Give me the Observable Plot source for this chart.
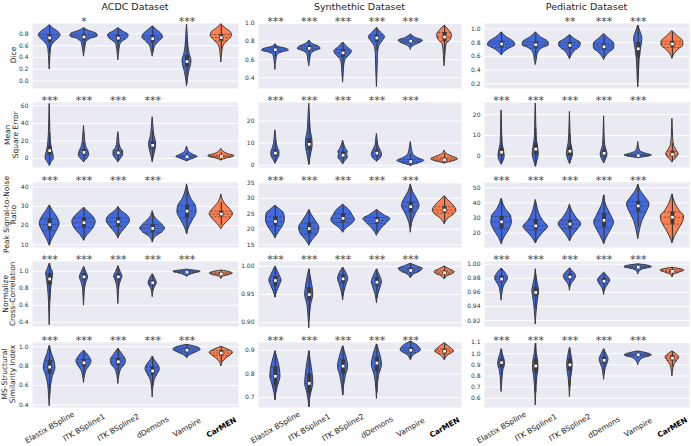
<!DOCTYPE html>
<html><head><meta charset="utf-8">
<script src="https://cdn.jsdelivr.net/npm/d3@7"></script>
<script src="https://cdn.jsdelivr.net/npm/@observablehq/plot@0.6"></script>
<style>
body{margin:0;background:#fff}
#fig{position:relative;width:691px;height:446px;font-family:"DejaVu Sans",sans-serif;overflow:hidden}
#fig svg{position:absolute}
</style>
</head><body><div id="fig"></div>
<script>
// ---------- data ----------
const methods = ["Elastix BSpline","ITK BSpline1","ITK BSpline2","dDemons","Vampire","CarMEN"];
const datasets = ["ACDC Dataset","Synthethic Dataset","Pediatric Dataset"];
const metricLabels = [["Dice"],["Mean","Square Error"],["Peak Signal-to-Noise","Ratio"],["Normalize","Cross-Correlation"],["MS-Structural","Similarity Index"]];

// significance stars per panel [row][col][method]
const starsDice = [["","*","","","***",""],["***","***","***","***","***",""],["","","**","***","***",""]];
const starsMSE  = [["***","***","***","***","",""],["***","***","***","***","***",""],["***","***","***","***","***",""]];
const starsPSNR = [["***","***","***","***","",""],["***","***","***","***","***",""],["***","***","***","***","***",""]];
const starsNCC  = [["***","***","***","***","***",""],["***","***","***","***","***",""],["***","***","***","***","***",""]];
const starsSSIM = [["***","***","***","***","***",""],["***","***","***","***","***",""],["***","***","***","***","***",""]];

// y domains and tick labels per panel
const domDice = [[-0.13,0.98],[0.28,1.0],[0.13,1.08]];
const domMSE  = [[-10.2,63.7],[-1,28.4],[-5.3,25.8]];
const domPSNR = [[8.6,42.4],[14.1,35.1],[10.5,53.5]];
const domNCC  = [[0.35,1.116],[0.893,1.009],[0.9116,1.004]];
const domSSIM = [[0.373,1.044],[0.658,0.933],[0.518,1.1]];
const tickDice = [["0.0","0.2","0.4","0.6","0.8"],["0.4","0.6","0.8","1.0"],["0.2","0.4","0.6","0.8","1.0"]];
const tickMSE  = [["0","20","40","60"],["0","10","20"],["0","10","20"]];
const tickPSNR = [["10","20","30","40"],["15","20","25","30","35"],["20","30","40","50"]];
const tickNCC  = [["0.4","0.6","0.8","1.0"],["0.90","0.95","1.00"],["0.92","0.94","0.96","0.98","1.00"]];
const tickSSIM = [["0.4","0.6","0.8","1.0"],["0.7","0.8","0.9"],["0.6","0.7","0.8","0.9","1.0","1.1"]];

// violins: q = [q1, median, q3], k = density profile [value, half-width] bottom -> top
const diceACDC = [
 {q:[0.66,0.735,0.79],k:[[0.2,0],[0.35,0.015],[0.5,0.03],[0.58,0.05],[0.65,0.12],[0.72,0.25],[0.78,0.32],[0.85,0.22],[0.9,0.1],[0.95,0]]},
 {q:[0.7,0.75,0.79],k:[[0.42,0],[0.5,0.02],[0.58,0.04],[0.66,0.07],[0.72,0.2],[0.76,0.4],[0.8,0.38],[0.86,0.12],[0.9,0]]},
 {q:[0.67,0.73,0.78],k:[[0.36,0],[0.5,0.025],[0.6,0.05],[0.66,0.1],[0.72,0.25],[0.78,0.3],[0.85,0.12],[0.9,0]]},
 {q:[0.66,0.72,0.77],k:[[0.42,0],[0.5,0.03],[0.6,0.08],[0.68,0.2],[0.74,0.3],[0.8,0.26],[0.87,0.12],[0.93,0]]},
 {q:[0.24,0.33,0.43],k:[[-0.09,0],[0.05,0.03],[0.15,0.06],[0.25,0.11],[0.35,0.13],[0.45,0.08],[0.6,0.04],[0.8,0.02],[0.96,0]]},
 {q:[0.68,0.74,0.79],k:[[0.32,0],[0.45,0.02],[0.55,0.04],[0.63,0.1],[0.7,0.22],[0.77,0.31],[0.83,0.28],[0.9,0.12],[0.97,0]]}];
const diceSyn = [
 {q:[0.69,0.71,0.73],k:[[0.49,0],[0.6,0.03],[0.65,0.06],[0.68,0.2],[0.7,0.4],[0.72,0.32],[0.74,0.1],[0.77,0]]},
 {q:[0.7,0.725,0.75],k:[[0.53,0],[0.6,0.03],[0.65,0.05],[0.69,0.15],[0.72,0.34],[0.74,0.3],[0.77,0.12],[0.81,0]]},
 {q:[0.63,0.675,0.71],k:[[0.35,0],[0.45,0.02],[0.52,0.03],[0.6,0.07],[0.65,0.2],[0.69,0.26],[0.74,0.12],[0.79,0]]},
 {q:[0.8,0.84,0.87],k:[[0.3,0],[0.5,0.02],[0.65,0.03],[0.74,0.06],[0.8,0.16],[0.85,0.24],[0.9,0.12],[0.95,0]]},
 {q:[0.79,0.805,0.82],k:[[0.71,0],[0.75,0.08],[0.78,0.25],[0.81,0.36],[0.84,0.15],[0.88,0]]},
 {q:[0.8,0.85,0.9],k:[[0.53,0],[0.6,0.015],[0.7,0.03],[0.77,0.06],[0.82,0.18],[0.87,0.22],[0.93,0.12],[0.975,0]]}];
const dicePed = [
 {q:[0.73,0.78,0.82],k:[[0.62,0],[0.67,0.1],[0.72,0.25],[0.76,0.4],[0.8,0.38],[0.88,0.15],[0.95,0]]},
 {q:[0.72,0.77,0.81],k:[[0.48,0],[0.55,0.03],[0.6,0.04],[0.66,0.08],[0.72,0.2],[0.76,0.38],[0.8,0.38],[0.88,0.15],[0.95,0]]},
 {q:[0.71,0.76,0.8],k:[[0.56,0],[0.62,0.06],[0.68,0.15],[0.74,0.3],[0.79,0.32],[0.85,0.15],[0.91,0]]},
 {q:[0.7,0.74,0.78],k:[[0.55,0],[0.6,0.06],[0.66,0.17],[0.72,0.3],[0.78,0.3],[0.86,0.14],[0.93,0]]},
 {q:[0.6,0.71,0.8],k:[[0.15,0],[0.25,0.015],[0.4,0.025],[0.55,0.04],[0.68,0.07],[0.77,0.1],[0.86,0.12],[0.95,0.07],[1.05,0]]},
 {q:[0.73,0.78,0.82],k:[[0.57,0],[0.63,0.06],[0.7,0.18],[0.76,0.32],[0.81,0.32],[0.9,0.14],[0.97,0]]}];
const mseACDC = [
 {q:[4,9,14],k:[[-8,0],[-4,0.06],[0,0.12],[4,0.11],[8,0.08],[14,0.05],[20,0.035],[30,0.02],[45,0.012],[62,0]]},
 {q:[4,7,10],k:[[-4,0],[0,0.1],[4,0.15],[8,0.13],[12,0.08],[18,0.04],[25,0.025],[37,0]]},
 {q:[4,6.5,9],k:[[-4,0],[0,0.08],[4,0.14],[8,0.14],[12,0.07],[18,0.03],[24,0.02],[30,0]]},
 {q:[11,15,19],k:[[-4,0],[2,0.03],[8,0.07],[14,0.1],[18,0.1],[24,0.06],[32,0.03],[40,0.015],[47,0]]},
 {q:[1,2,3.5],k:[[-3,0],[0,0.2],[2,0.31],[4,0.2],[7,0.07],[10,0.03],[13.6,0]]},
 {q:[1.5,2.5,3.5],k:[[-2,0],[0,0.15],[2,0.35],[3,0.38],[5,0.2],[8,0.06],[11,0]]}];
const mseSyn = [
 {q:[4,5.5,7],k:[[0.9,0],[2.5,0.06],[4.5,0.12],[6,0.12],[8,0.07],[10,0.04],[13,0.02],[15.8,0]]},
 {q:[7,9.5,12],k:[[0.3,0],[3,0.03],[6,0.07],[9,0.1],[12,0.09],[15,0.05],[19,0.03],[24,0.015],[27.9,0]]},
 {q:[3.2,4.5,6],k:[[0.6,0],[2,0.07],[3.5,0.14],[5,0.12],[6,0.14],[7.5,0.08],[9,0.04],[11.2,0]]},
 {q:[4.2,5.5,6.8],k:[[1.8,0],[3,0.1],[5,0.15],[7,0.1],[9,0.04],[11,0.025],[14.2,0]]},
 {q:[1,1.7,2.6],k:[[-0.2,0],[1,0.25],[2,0.4],[3,0.25],[5,0.07],[7.5,0.03],[10.5,0]]},
 {q:[1.9,2.5,3.3],k:[[0.9,0],[1.8,0.25],[2.8,0.4],[3.8,0.25],[5,0.08],[6.7,0]]}];
const msePed = [
 {q:[0.5,2,4],k:[[-3.8,0],[-2,0.06],[0,0.09],[2,0.08],[4,0.05],[7,0.025],[12,0.015],[18,0.01],[22,0]]},
 {q:[1,3.5,6],k:[[-4.8,0],[-2,0.05],[1,0.09],[4,0.07],[7,0.04],[12,0.02],[20,0.01],[25.3,0]]},
 {q:[0.5,2.5,4.5],k:[[-3.5,0],[-1,0.06],[1,0.09],[3.5,0.07],[6,0.04],[10,0.02],[16,0.01],[21.3,0]]},
 {q:[0.2,1.5,3],k:[[-3.2,0],[-1,0.07],[1,0.1],[3,0.07],[5.5,0.03],[10,0.015],[19.2,0]]},
 {q:[0.1,0.4,0.9],k:[[-0.8,0],[0,0.3],[0.5,0.4],[1.2,0.25],[2.5,0.06],[4.5,0.02],[6.9,0]]},
 {q:[0,1,2.5],k:[[-2.7,0],[-1,0.1],[1,0.18],[3,0.12],[5,0.05],[9,0.02],[14,0.01],[18,0]]}];
const psnrACDC = [
 {q:[17.5,20.5,23.5],k:[[9.7,0],[13,0.08],[17,0.2],[21,0.29],[25,0.2],[28,0.08],[30.5,0]]},
 {q:[19,21.5,24],k:[[12.3,0],[15,0.1],[18,0.25],[22,0.34],[25,0.25],[27.5,0.1],[29.3,0]]},
 {q:[19.5,22,24],k:[[13.5,0],[16,0.08],[19,0.22],[22.5,0.34],[25,0.28],[27.5,0.1],[29.6,0]]},
 {q:[16.5,18.5,20.5],k:[[11.4,0],[14,0.08],[16.5,0.28],[18.5,0.36],[21,0.25],[24,0.08],[27.5,0]]},
 {q:[24,27.5,30.5],k:[[15.7,0],[19,0.06],[23,0.18],[27,0.28],[30,0.26],[34,0.12],[38,0.04],[41.4,0]]},
 {q:[24.5,26,27.5],k:[[18.3,0],[21,0.12],[24,0.28],[26,0.34],[28.5,0.25],[32,0.08],[36.2,0]]}];
const psnrSyn = [
 {q:[21,22.5,24],k:[[17.2,0],[19,0.1],[21,0.22],[23,0.28],[25,0.26],[26.5,0.12],[27.6,0]]},
 {q:[18.5,20.2,22],k:[[14.8,0],[16.5,0.1],[18.5,0.25],[20.5,0.3],[22.5,0.2],[24.5,0.08],[26.2,0]]},
 {q:[22.2,23.5,25],k:[[19,0],[20.5,0.12],[22,0.3],[23,0.35],[24.5,0.28],[26,0.2],[27.9,0]]},
 {q:[21.8,22.8,23.8],k:[[18,0],[20,0.12],[22,0.3],[23.3,0.4],[24.5,0.22],[26.2,0]]},
 {q:[25.5,27.3,28.8],k:[[19,0],[22,0.04],[25,0.15],[27.5,0.26],[29.5,0.2],[32,0.07],[34.5,0]]},
 {q:[25.2,26.2,27.3],k:[[21.7,0],[23.5,0.12],[25,0.3],[26,0.35],[27.5,0.28],[29.5,0.1],[30.7,0]]}];
const psnrPed = [
 {q:[23,27.5,31],k:[[12.9,0],[17,0.08],[22,0.22],[27,0.3],[31,0.28],[36,0.12],[42.7,0]]},
 {q:[22,24.8,29],k:[[13.4,0],[17,0.1],[21,0.25],[24,0.36],[28,0.22],[33,0.1],[38,0.04],[42,0]]},
 {q:[23,26,28.5],k:[[14.7,0],[18,0.08],[22,0.22],[26,0.33],[30,0.2],[35,0.06],[39,0]]},
 {q:[23.5,28.5,33],k:[[12.9,0],[17,0.08],[22,0.2],[27,0.29],[32,0.2],[38,0.07],[45,0]]},
 {q:[34,38,41],k:[[16.2,0],[22,0.05],[28,0.12],[34,0.25],[39,0.33],[44,0.2],[48,0.07],[52.2,0]]},
 {q:[26,30.5,34],k:[[13.4,0],[18,0.08],[23,0.2],[28,0.32],[31,0.34],[35,0.2],[40,0.08],[45.6,0]]}];
const nccACDC = [
 {q:[0.84,0.91,0.97],k:[[0.37,0],[0.5,0.01],[0.65,0.02],[0.75,0.035],[0.82,0.05],[0.88,0.07],[0.93,0.09],[0.98,0.1],[1.03,0.05],[1.09,0]]},
 {q:[0.9,0.935,0.97],k:[[0.6,0],[0.7,0.015],[0.8,0.03],[0.87,0.07],[0.93,0.12],[0.98,0.08],[1.05,0]]},
 {q:[0.9,0.935,0.97],k:[[0.62,0],[0.72,0.015],[0.82,0.03],[0.88,0.07],[0.94,0.12],[0.99,0.07],[1.06,0]]},
 {q:[0.84,0.865,0.89],k:[[0.7,0],[0.78,0.03],[0.83,0.09],[0.86,0.12],[0.9,0.09],[0.94,0.04],[0.965,0]]},
 {q:[0.98,0.99,1.0],k:[[0.94,0],[0.96,0.1],[0.98,0.25],[0.995,0.4],[1.01,0.2],[1.02,0]]},
 {q:[0.96,0.97,0.985],k:[[0.915,0],[0.94,0.08],[0.96,0.25],[0.975,0.34],[0.99,0.25],[1.01,0]]}];
const nccSyn = [
 {q:[0.965,0.975,0.982],k:[[0.945,0],[0.955,0.05],[0.965,0.12],[0.975,0.18],[0.985,0.12],[1.0,0]]},
 {q:[0.94,0.95,0.962],k:[[0.89,0],[0.91,0.02],[0.93,0.05],[0.95,0.12],[0.97,0.08],[0.995,0]]},
 {q:[0.97,0.978,0.985],k:[[0.94,0],[0.955,0.04],[0.968,0.1],[0.978,0.15],[0.988,0.1],[0.998,0]]},
 {q:[0.965,0.972,0.98],k:[[0.935,0],[0.95,0.04],[0.965,0.12],[0.972,0.15],[0.982,0.1],[0.995,0]]},
 {q:[0.99,0.993,0.997],k:[[0.98,0],[0.986,0.1],[0.992,0.3],[0.996,0.36],[1.0,0.2],[1.005,0]]},
 {q:[0.986,0.989,0.992],k:[[0.978,0],[0.983,0.1],[0.987,0.25],[0.99,0.3],[0.995,0.15],[1.0,0]]}];
const nccPed = [
 {q:[0.975,0.979,0.983],k:[[0.949,0],[0.96,0.03],[0.97,0.08],[0.976,0.16],[0.98,0.19],[0.986,0.14],[0.994,0]]},
 {q:[0.955,0.96,0.967],k:[[0.915,0],[0.93,0.02],[0.945,0.05],[0.955,0.08],[0.962,0.1],[0.97,0.07],[0.98,0.03],[0.993,0]]},
 {q:[0.979,0.982,0.986],k:[[0.963,0],[0.972,0.05],[0.978,0.14],[0.983,0.18],[0.988,0.12],[0.994,0]]},
 {q:[0.973,0.976,0.98],k:[[0.957,0],[0.966,0.05],[0.972,0.13],[0.977,0.18],[0.982,0.12],[0.988,0]]},
 {q:[0.994,0.996,0.997],k:[[0.986,0],[0.99,0.05],[0.993,0.15],[0.996,0.4],[0.998,0.3],[1.0,0]]},
 {q:[0.988,0.99,0.992],k:[[0.982,0],[0.986,0.08],[0.989,0.25],[0.991,0.35],[0.993,0.25],[0.995,0]]}];
const ssimACDC = [
 {q:[0.72,0.79,0.86],k:[[0.39,0],[0.5,0.02],[0.6,0.04],[0.7,0.1],[0.78,0.17],[0.85,0.14],[0.93,0.06],[1.01,0]]},
 {q:[0.8,0.835,0.87],k:[[0.63,0],[0.7,0.03],[0.76,0.08],[0.81,0.18],[0.85,0.22],[0.9,0.15],[0.96,0]]},
 {q:[0.81,0.845,0.88],k:[[0.62,0],[0.7,0.03],[0.77,0.09],[0.82,0.2],[0.86,0.22],[0.92,0.12],[0.98,0]]},
 {q:[0.71,0.75,0.79],k:[[0.48,0],[0.58,0.02],[0.66,0.06],[0.72,0.15],[0.77,0.21],[0.82,0.15],[0.86,0.06],[0.9,0]]},
 {q:[0.945,0.965,0.985],k:[[0.885,0],[0.91,0.08],[0.94,0.25],[0.97,0.4],[1.0,0.25],[1.02,0]]},
 {q:[0.91,0.935,0.96],k:[[0.8,0],[0.84,0.04],[0.88,0.15],[0.92,0.3],[0.94,0.34],[0.97,0.2],[1.0,0]]}];
const ssimSyn = [
 {q:[0.75,0.79,0.83],k:[[0.69,0],[0.72,0.03],[0.75,0.08],[0.79,0.15],[0.83,0.12],[0.87,0.05],[0.896,0]]},
 {q:[0.72,0.76,0.8],k:[[0.66,0],[0.69,0.02],[0.72,0.06],[0.76,0.12],[0.8,0.1],[0.85,0.05],[0.896,0]]},
 {q:[0.8,0.833,0.86],k:[[0.71,0],[0.75,0.03],[0.79,0.08],[0.83,0.15],[0.87,0.1],[0.917,0]]},
 {q:[0.81,0.846,0.87],k:[[0.696,0],[0.74,0.02],[0.79,0.06],[0.84,0.15],[0.88,0.1],[0.925,0]]},
 {q:[0.89,0.9,0.91],k:[[0.86,0],[0.88,0.1],[0.9,0.3],[0.92,0.2],[0.937,0]]},
 {q:[0.885,0.896,0.905],k:[[0.86,0],[0.88,0.12],[0.895,0.28],[0.91,0.18],[0.93,0]]}];
const ssimPed = [
 {q:[0.88,0.92,0.95],k:[[0.66,0],[0.72,0.015],[0.8,0.03],[0.86,0.06],[0.9,0.1],[0.94,0.09],[0.99,0.04],[1.04,0]]},
 {q:[0.83,0.89,0.95],k:[[0.54,0],[0.62,0.01],[0.72,0.025],[0.8,0.05],[0.87,0.08],[0.93,0.07],[1.0,0.03],[1.09,0]]},
 {q:[0.85,0.9,0.95],k:[[0.615,0],[0.7,0.015],[0.78,0.035],[0.85,0.07],[0.9,0.08],[0.96,0.06],[1.05,0]]},
 {q:[0.91,0.94,0.97],k:[[0.77,0],[0.82,0.02],[0.87,0.05],[0.92,0.11],[0.95,0.13],[0.99,0.08],[1.04,0]]},
 {q:[0.98,0.99,0.995],k:[[0.9,0],[0.93,0.04],[0.96,0.15],[0.985,0.4],[1.0,0.3],[1.02,0]]},
 {q:[0.94,0.96,0.98],k:[[0.8,0],[0.85,0.02],[0.9,0.06],[0.94,0.15],[0.965,0.2],[0.99,0.14],[1.02,0]]}];

// ---------- layout ----------
const violins = [[diceACDC,diceSyn,dicePed],[mseACDC,mseSyn,msePed],[psnrACDC,psnrSyn,psnrPed],[nccACDC,nccSyn,nccPed],[ssimACDC,ssimSyn,ssimPed]];
const stars = [starsDice,starsMSE,starsPSNR,starsNCC,starsSSIM];
const doms = [domDice,domMSE,domPSNR,domNCC,domSSIM];
const ticks = [tickDice,tickMSE,tickPSNR,tickNCC,tickSSIM];

const panelLeft = [32, 258, 484], panelW = [206, 203, 205];
const panelTop = [22.5, 102.3, 182, 261.3, 341.5], panelH = 65;
const BLUE = "#4169E1", ORANGE = "#FF7F50", INK = "#3a3a3a";
const fig = document.getElementById("fig");

function widthAt(k, v) {
  for (let j = 0; j < k.length - 1; j++) {
    const [v0, w0] = k[j], [v1, w1] = k[j + 1];
    if (v >= v0 && v <= v1) return w0 + (w1 - w0) * (v - v0) / (v1 - v0);
  }
  return 0;
}

for (let r = 0; r < 5; r++) {
  for (let c = 0; c < 3; c++) {
    const vs = violins[r][c];
    const pts = vs.flatMap((d, i) => d.k.map(([v, w]) => ({i, v, w})));
    const boxes = vs.map((d, i) => {
      const [q1, med, q3] = d.q, iqr = q3 - q1;
      const lo = Math.max(d.k[0][0], q1 - 1.5 * iqr), hi = Math.min(d.k[d.k.length - 1][0], q3 + 1.5 * iqr);
      return {i, q1, med, q3, lo, hi};
    });
    const qlines = vs.flatMap((d, i) => d.q.map(v => ({i, v, w: widthAt(d.k, v)})));
    const st = stars[r][c].map((s, i) => ({i, s})).filter(d => d.s);
    const labels = ticks[r][c];
    const tv = labels.map(Number);
    const mL = 30, mR = 1, mT = 20, mB = r === 4 ? 46 : 0;
    const marks = [
      Plot.frame({fill: "#EAEAF2", stroke: null}),
      Plot.gridY(tv, {stroke: "white", strokeOpacity: 1, strokeWidth: 1}),
      Plot.axisY(tv, {tickSize: 0, tickPadding: 4, fontSize: 6, fill: "#333",
        tickFormat: d => labels[tv.indexOf(d)]}),
      Plot.areaX(pts, {filter: d => d.i < 5, y: "v", x1: d => d.i - d.w, x2: d => d.i + d.w, z: "i",
        fill: BLUE, stroke: INK, strokeWidth: 1, curve: "monotone-y"}),
      Plot.areaX(pts, {filter: d => d.i === 5, y: "v", x1: d => d.i - d.w, x2: d => d.i + d.w, z: "i",
        fill: ORANGE, stroke: INK, strokeWidth: 1, curve: "monotone-y"}),
      Plot.ruleY(qlines, {y: "v", x1: d => d.i - d.w, x2: d => d.i + d.w, stroke: INK, strokeWidth: 0.7, strokeDasharray: "2,1.5"}),
      Plot.ruleX(boxes, {x: "i", y1: "lo", y2: "hi", stroke: INK, strokeWidth: 1.2}),
      Plot.ruleX(boxes, {x: "i", y1: "q1", y2: "q3", stroke: INK, strokeWidth: 4}),
      Plot.dot(boxes, {x: "i", y: "med", fill: "white", r: 1.5, symbol: "square"}),
      Plot.text(st, {x: "i", text: "s", frameAnchor: "top", dy: -6, fontSize: 11, fill: "#444"})
    ];
    if (r === 4) {
      const ml = methods.map((m, i) => ({i, m}));
      marks.push(
        Plot.text(ml, {filter: d => d.i < 5, x: "i", text: "m", frameAnchor: "bottom", dy: 20, rotate: -30,
          fontSize: 7.5, fill: "#262626", textAnchor: "middle", lineAnchor: "middle"}),
        Plot.text(ml, {filter: d => d.i === 5, x: "i", text: "m", frameAnchor: "bottom", dy: 20, rotate: -30,
          fontSize: 7.5, fontWeight: "bold", fill: "#000", textAnchor: "middle", lineAnchor: "middle"})
      );
    }
    const svg = Plot.plot({
      width: panelW[c] + mL + mR, height: panelH + mT + mB,
      marginLeft: mL, marginRight: mR, marginTop: mT, marginBottom: mB,
      x: {domain: [-0.5, 5.5], axis: null},
      y: {domain: doms[r][c], axis: null},
      style: {background: "transparent", overflow: "visible", fontFamily: "DejaVu Sans, sans-serif"},
      marks
    });
    svg.style.position = "absolute";
    svg.style.left = (panelLeft[c] - mL) + "px";
    svg.style.top = (panelTop[r] - mT) + "px";
    fig.appendChild(svg);
  }
}

// titles and y labels
const over = d3.create("svg").attr("width", 691).attr("height", 446)
  .style("left", "0px").style("top", "0px").style("pointer-events", "none")
  .attr("font-family", "DejaVu Sans, sans-serif");
datasets.forEach((t, c) => {
  over.append("text").attr("x", panelLeft[c] + panelW[c] / 2).attr("y", 9.5)
    .attr("text-anchor", "middle").attr("font-size", 9.5).attr("fill", "#262626").text(t);
});
const labelX = [[13.5], [7, 15], [6, 13.5], [5, 12.5], [4.5, 12]];
metricLabels.forEach((lines, r) => {
  const yc = panelTop[r] + panelH / 2;
  lines.forEach((l, j) => {
    over.append("text").attr("transform", `translate(${labelX[r][j]},${yc}) rotate(-90)`)
      .attr("text-anchor", "middle").attr("dominant-baseline", "central")
      .attr("font-size", 7.5).attr("fill", "#262626").text(l);
  });
});
fig.appendChild(over.node());
</script></body></html>
